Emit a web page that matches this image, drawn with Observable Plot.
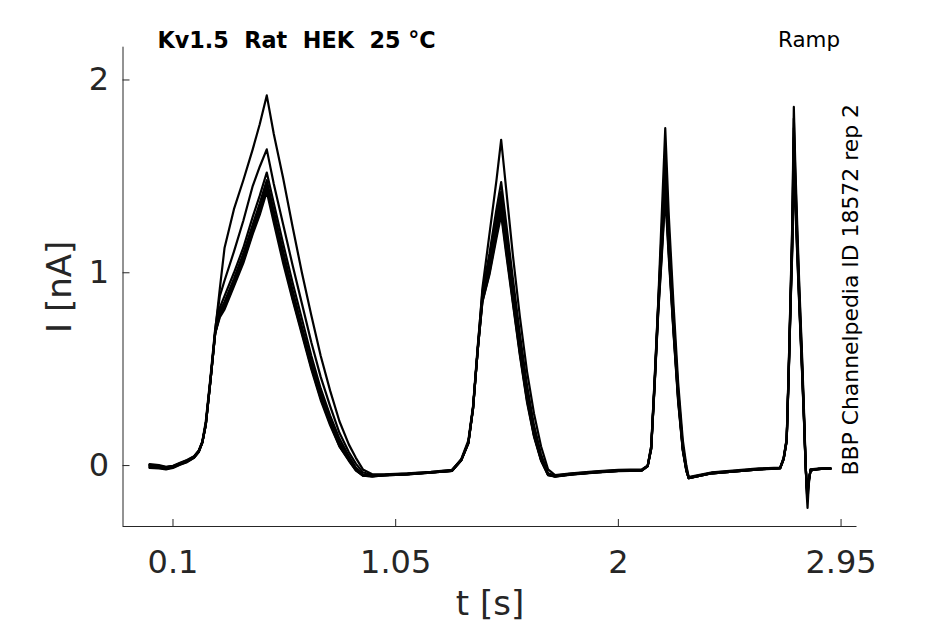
<!DOCTYPE html>
<html>
<head>
<meta charset="utf-8">
<script src="https://cdn.jsdelivr.net/npm/d3@7"></script>
<script src="https://cdn.jsdelivr.net/npm/@observablehq/plot@0.6"></script>
<style>
  html, body { margin: 0; padding: 0; background: #fff; }
  #chart { width: 945px; height: 624px; }
</style>
</head>
<body>
<div id="chart"></div>
<script>
// ---- Data ----
const titleText = "Kv1.5  Rat  HEK  25 °C";
const protocolText = "Ramp";
const sourceText = "BBP Channelpedia ID 18572 rep 2";
const xLabel = "t [s]";
const yLabel = "I [nA]";

const xTicks = [0.1, 1.05, 2, 2.95];
const yTicks = [0, 1, 2];
const xDomain = [-0.1133, 3.018];
const yDomain = [-0.316, 2.17];

// shared time base of all sweeps (s)
const time = [
  0, 0.04, 0.07, 0.1, 0.13, 0.16, 0.19, 0.21, 0.225, 0.24, 0.26, 0.28, 0.30, 0.32, 0.36, 0.40, 0.44, 0.47, 0.50,
  0.53, 0.57, 0.61, 0.65, 0.69, 0.73, 0.77, 0.81, 0.85, 0.88, 0.91, 0.95, 1.0, 1.1, 1.2, 1.29,
  1.33, 1.36, 1.38, 1.40, 1.42, 1.45, 1.48, 1.50, 1.52, 1.55, 1.58, 1.61, 1.64, 1.67, 1.70, 1.73, 1.8, 1.9, 2.0, 2.1,
  2.125, 2.14, 2.155, 2.17, 2.185, 2.20, 2.215, 2.235, 2.255, 2.275, 2.29, 2.30, 2.32, 2.4, 2.5, 2.6, 2.69,
  2.705, 2.718, 2.727, 2.735, 2.742, 2.7485, 2.755, 2.763, 2.772, 2.784, 2.792, 2.798, 2.803, 2.807, 2.812, 2.82, 2.85, 2.88, 2.905
];

// current of each sweep (nA)
const sweepA = [
  0.004, -0.002, -0.008, -0.003, 0.012, 0.027, 0.047, 0.077, 0.12, 0.22, 0.45, 0.70, 0.92, 1.13, 1.33, 1.48, 1.64, 1.77, 1.92,
  1.72, 1.49, 1.24, 1.00, 0.78, 0.57, 0.39, 0.23, 0.11, 0.04, -0.02, -0.045, -0.045, -0.04, -0.032, -0.022,
  0.03, 0.12, 0.30, 0.60, 0.92, 1.20, 1.48, 1.69, 1.45, 1.09, 0.77, 0.49, 0.27, 0.10, -0.02, -0.05, -0.04, -0.03, -0.022, -0.02,
  0.0, 0.10, 0.46, 0.85, 1.30, 1.75, 1.30, 0.84, 0.43, 0.13, 0.0, -0.06, -0.055, -0.035, -0.025, -0.015, -0.01,
  0.04, 0.14, 0.52, 0.92, 1.27, 1.86, 1.55, 1.25, 0.93, 0.56, 0.28, 0.05, -0.14, -0.22, -0.10, -0.02, -0.018, -0.016, -0.015
];
const sweepB = [
  0.008, 0.002, -0.006, -0.001, 0.014, 0.029, 0.049, 0.079, 0.125, 0.23, 0.46, 0.71, 0.88, 0.96, 1.11, 1.27, 1.45, 1.55, 1.64,
  1.46, 1.25, 1.04, 0.84, 0.64, 0.46, 0.31, 0.17, 0.07, 0.01, -0.035, -0.05, -0.048, -0.042, -0.034, -0.024,
  0.035, 0.13, 0.31, 0.62, 0.90, 1.10, 1.33, 1.47, 1.27, 0.97, 0.68, 0.42, 0.21, 0.06, -0.04, -0.052, -0.042, -0.032, -0.024, -0.022,
  0.0, 0.10, 0.45, 0.84, 1.22, 1.62, 1.22, 0.78, 0.39, 0.10, -0.01, -0.062, -0.057, -0.037, -0.027, -0.017, -0.012,
  0.04, 0.14, 0.52, 0.90, 1.24, 1.80, 1.50, 1.20, 0.90, 0.53, 0.26, 0.04, -0.12, -0.18, -0.09, -0.02, -0.015, -0.015, -0.015
];
const sweepC = [
  -0.012, -0.015, -0.02, -0.012, 0.004, 0.018, 0.04, 0.07, 0.118, 0.21, 0.44, 0.69, 0.82, 0.88, 1.00, 1.13, 1.29, 1.40, 1.52,
  1.36, 1.15, 0.95, 0.76, 0.57, 0.40, 0.26, 0.14, 0.05, -0.01, -0.045, -0.052, -0.05, -0.044, -0.036, -0.026,
  0.03, 0.12, 0.30, 0.61, 0.88, 1.07, 1.29, 1.42, 1.22, 0.92, 0.63, 0.38, 0.18, 0.04, -0.045, -0.055, -0.044, -0.034, -0.026, -0.024,
  -0.002, 0.09, 0.44, 0.83, 1.18, 1.55, 1.18, 0.75, 0.37, 0.09, -0.02, -0.064, -0.058, -0.038, -0.028, -0.018, -0.013,
  0.035, 0.13, 0.50, 0.88, 1.20, 1.75, 1.46, 1.17, 0.87, 0.51, 0.25, 0.03, -0.11, -0.16, -0.08, -0.025, -0.018, -0.016, -0.016
];
const sweepD = [
  0.0, -0.006, -0.012, -0.006, 0.008, 0.022, 0.043, 0.073, 0.12, 0.215, 0.445, 0.69, 0.80, 0.85, 0.97, 1.10, 1.25, 1.36, 1.48,
  1.32, 1.11, 0.91, 0.72, 0.54, 0.38, 0.24, 0.12, 0.04, -0.02, -0.05, -0.055, -0.05, -0.045, -0.036, -0.027,
  0.03, 0.12, 0.30, 0.60, 0.87, 1.04, 1.25, 1.38, 1.18, 0.89, 0.61, 0.36, 0.17, 0.035, -0.045, -0.055, -0.045, -0.035, -0.027, -0.025,
  -0.003, 0.09, 0.43, 0.82, 1.15, 1.50, 1.15, 0.73, 0.36, 0.085, -0.025, -0.065, -0.06, -0.04, -0.03, -0.02, -0.014,
  0.035, 0.13, 0.50, 0.87, 1.18, 1.70, 1.43, 1.15, 0.85, 0.50, 0.24, 0.03, -0.10, -0.15, -0.08, -0.025, -0.018, -0.016, -0.016
];
const sweepE = [
  -0.008, -0.011, -0.016, -0.009, 0.006, 0.02, 0.042, 0.072, 0.119, 0.212, 0.442, 0.685, 0.79, 0.83, 0.95, 1.08, 1.23, 1.34, 1.46,
  1.30, 1.09, 0.89, 0.70, 0.52, 0.36, 0.22, 0.11, 0.03, -0.02, -0.05, -0.055, -0.05, -0.045, -0.036, -0.027,
  0.028, 0.115, 0.295, 0.60, 0.86, 1.02, 1.22, 1.35, 1.15, 0.87, 0.59, 0.35, 0.16, 0.03, -0.048, -0.056, -0.046, -0.036, -0.028, -0.025,
  -0.003, 0.088, 0.43, 0.81, 1.12, 1.45, 1.12, 0.71, 0.35, 0.08, -0.025, -0.065, -0.06, -0.04, -0.03, -0.02, -0.014,
  0.033, 0.13, 0.49, 0.86, 1.16, 1.65, 1.40, 1.13, 0.84, 0.49, 0.235, 0.025, -0.10, -0.14, -0.075, -0.025, -0.018, -0.016, -0.016
];
const sweepF = [
  -0.004, -0.008, -0.013, -0.007, 0.008, 0.022, 0.044, 0.074, 0.12, 0.213, 0.443, 0.685, 0.78, 0.82, 0.94, 1.06, 1.21, 1.32, 1.44,
  1.28, 1.07, 0.87, 0.69, 0.51, 0.35, 0.22, 0.10, 0.03, -0.025, -0.052, -0.056, -0.051, -0.046, -0.037, -0.028,
  0.028, 0.115, 0.295, 0.60, 0.85, 1.00, 1.20, 1.32, 1.13, 0.85, 0.58, 0.34, 0.155, 0.03, -0.048, -0.056, -0.046, -0.036, -0.028, -0.025,
  -0.003, 0.088, 0.43, 0.80, 1.10, 1.42, 1.10, 0.70, 0.34, 0.08, -0.025, -0.065, -0.06, -0.04, -0.03, -0.02, -0.014,
  0.033, 0.13, 0.49, 0.85, 1.14, 1.60, 1.37, 1.11, 0.83, 0.48, 0.23, 0.025, -0.10, -0.14, -0.075, -0.025, -0.018, -0.016, -0.016
];
const sweepG = [
  0.003, -0.003, -0.009, -0.004, 0.011, 0.025, 0.046, 0.075, 0.121, 0.214, 0.444, 0.687, 0.77, 0.81, 0.93, 1.05, 1.20, 1.30, 1.42,
  1.26, 1.05, 0.86, 0.68, 0.50, 0.34, 0.21, 0.10, 0.025, -0.025, -0.052, -0.056, -0.051, -0.046, -0.037, -0.028,
  0.028, 0.115, 0.295, 0.60, 0.85, 0.99, 1.18, 1.30, 1.11, 0.84, 0.57, 0.33, 0.15, 0.025, -0.05, -0.057, -0.047, -0.037, -0.029, -0.026,
  -0.004, 0.085, 0.42, 0.79, 1.08, 1.40, 1.08, 0.69, 0.33, 0.075, -0.028, -0.066, -0.06, -0.04, -0.03, -0.02, -0.015,
  0.032, 0.125, 0.48, 0.84, 1.12, 1.55, 1.34, 1.09, 0.82, 0.47, 0.225, 0.02, -0.10, -0.13, -0.07, -0.025, -0.018, -0.016, -0.016
];

const sweeps = { A: sweepA, B: sweepB, C: sweepC, D: sweepD, E: sweepE, F: sweepF, G: sweepG };

// ---- Build long table for Plot ----
const rows = [];
for (const [name, values] of Object.entries(sweeps)) {
  values.forEach((v, i) => rows.push({ sweep: name, t: time[i], I: v }));
}

const axisColor = "#262626";
const W = 945, H = 624;
const mL = 122.5, mR = 88.5, mT = 46.7, mB = 98;
const frameW = W - mL - mR, frameH = H - mT - mB;
const tickLen = 7;

const chart = Plot.plot({
  width: W,
  height: H,
  marginLeft: mL,
  marginRight: mR,
  marginTop: mT,
  marginBottom: mB,
  style: { fontFamily: "DejaVu Sans", background: "#fff", overflow: "visible" },
  x: { domain: xDomain },
  y: { domain: yDomain },
  marks: [
    // axis lines (box off)
    Plot.ruleX([xDomain[0]], { stroke: axisColor, strokeWidth: 1 }),
    Plot.ruleY([yDomain[0]], { stroke: axisColor, strokeWidth: 1 }),
    // inward ticks
    Plot.ruleX(xTicks, { x: d => d, insetTop: frameH - tickLen, stroke: axisColor }),
    Plot.ruleY(yTicks, { y: d => d, insetRight: frameW - tickLen, stroke: axisColor }),
    // tick labels
    Plot.axisX(xTicks, { tickSize: 0, tickPadding: 24, fontSize: 32, color: axisColor, label: null, tickFormat: d => String(d) }),
    Plot.axisY(yTicks, { tickSize: 0, tickPadding: 14, fontSize: 32, color: axisColor, label: null, tickFormat: d => String(d) }),
    // sweeps
    Plot.line(rows, { x: "t", y: "I", z: "sweep", stroke: "#000", strokeWidth: 2.2, strokeLinejoin: "round" }),
    // axis labels
    Plot.text([xLabel], { text: d => d, frameAnchor: "bottom", lineAnchor: "bottom", dy: 88, fontSize: 34, fill: axisColor }),
    Plot.text([yLabel], { text: d => d, frameAnchor: "left", rotate: -90, textAnchor: "middle", lineAnchor: "middle", dx: -63.3, fontSize: 34, fill: axisColor }),
    // annotations
    Plot.text([titleText], { text: d => d, frameAnchor: "top-left", textAnchor: "start", lineAnchor: "bottom", dx: 34.5, dy: 0.6, fontSize: 22.3, fontWeight: "bold", fill: "#000" }),
    Plot.text([protocolText], { text: d => d, frameAnchor: "top-right", textAnchor: "end", lineAnchor: "bottom", dx: -17, dy: -0.7, fontSize: 21.4, fill: "#000" }),
    Plot.text([sourceText], { text: d => d, frameAnchor: "bottom-right", rotate: -90, textAnchor: "start", lineAnchor: "middle", dx: -6.5, dy: -51, fontSize: 21.9, fill: "#000" })
  ]
});

document.getElementById("chart").appendChild(chart);
</script>
</body>
</html>
